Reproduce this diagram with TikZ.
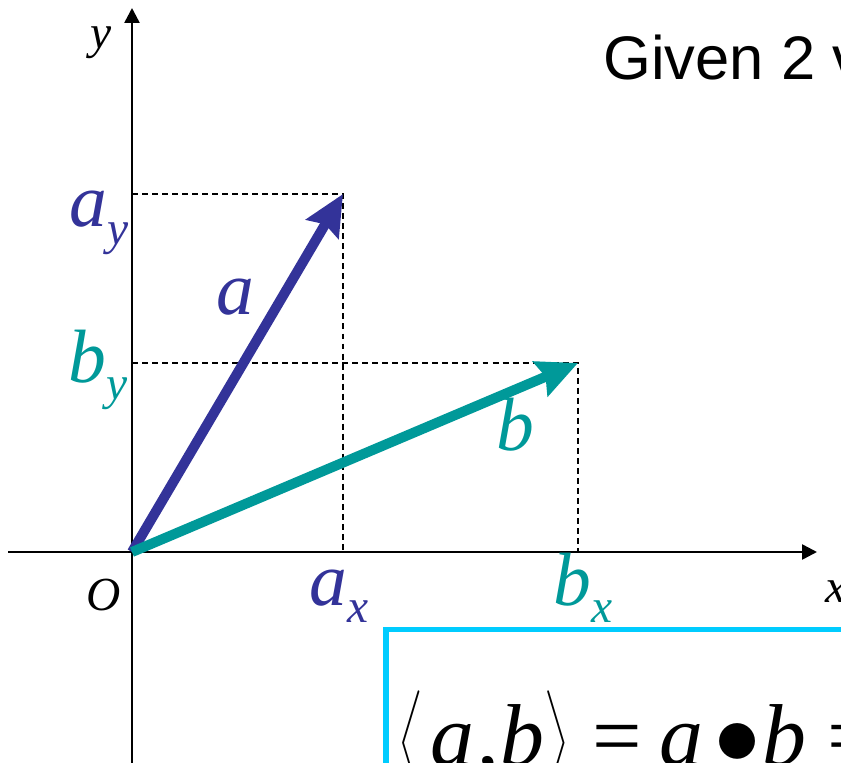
\RequirePackage{fix-cm}
\documentclass[tikz,border=0pt]{standalone}
\usepackage{amsmath}
\usepackage{fontspec}
\setmainfont{Liberation Serif}
\newfontfamily\givenfont{Liberation Sans}
\usetikzlibrary{arrows.meta}
\definecolor{VecBlue}{RGB}{51,51,153}
\definecolor{VecTeal}{RGB}{0,153,153}
\definecolor{BoxCyan}{RGB}{0,204,255}
\newcommand{\compsub}[2]{\textit{#1}\raisebox{-10pt}{\fontsize{27}{30}\selectfont\textit{#2}}}

\begin{document}
\begin{tikzpicture}[x=0.02cm,y=-0.02cm,
    axis/.style={line width=1.4pt,-{Triangle[length=8.5pt,width=8.5pt]}},
    vec/.style={line width=5.7pt,-{Stealth[length=23pt,width=21pt,inset=3pt]}},
    proj/.style={line width=0.85pt,dash pattern=on 3.4pt off 2.3pt},
    lbl/.style={inner sep=0pt,anchor=base west,font=\fontsize{43}{50}\selectfont},
    axlbl/.style={inner sep=0pt,anchor=base west,font=\fontsize{27}{30}\selectfont\itshape},
    fml/.style={inner sep=0pt,anchor=base west,font=\fontsize{50}{56}\selectfont}
  ]
    \useasboundingbox (0,0) rectangle (841,763);
    \clip (0,0) rectangle (841,763);
    % points
    \coordinate (O) at (132,552);
    \coordinate (A) at (343,194);
    \coordinate (B) at (578,363);
    \coordinate (xl) at (8,552);
    \coordinate (xr) at (817,552);
    \coordinate (yb) at (132,770);
    \coordinate (yt) at (132,8);
    % projections
    \draw[proj] (O |- A) -- (A) -- (A |- O);
    \draw[proj] (O |- B) -- (B) -- (B |- O);
    % axes
    \draw[axis] (xl) -- (xr);
    \draw[axis] (yb) -- (yt);
    % vectors
    \draw[vec,VecBlue] (O) -- (A);
    \draw[vec,VecTeal] (O) -- (B);
    % labels
    \node[axlbl] (ylab) at (90,49) {y};
    \node[axlbl] (xlab) at (825,602) {x};
    \node[axlbl] (olab) at (86,610) {O};
    \node[lbl,text=VecBlue] (ay) at (69,227) {\compsub{a}{y}};
    \node[lbl,text=VecTeal] (by) at (68,382) {\compsub{b}{y}};
    \node[lbl,text=VecBlue] (alab) at (216,315) {\textit{a}};
    \node[lbl,text=VecTeal] (blab) at (496,450) {\textit{b}};
    \node[lbl,text=VecBlue] (ax) at (309,605) {\compsub{a}{x}};
    \node[lbl,text=VecTeal] (bx) at (553,605) {\compsub{b}{x}};
    \node[inner sep=0pt,anchor=base west,font=\givenfont\fontsize{35}{40}\selectfont] (given) at (603,80) {Given 2 v};
    % inner product box
    \draw[BoxCyan,line width=3.4pt] (386,629.5) rectangle (1000,1000);
    \node[fml] (lang) at (398,765) {\scalebox{0.75}[1]{$\big\langle$}};
    \node[fml] (fa1) at (430,765) {\textit{a}};
    \node[fml] (comma) at (477,765) {,};
    \node[fml] (fb1) at (500,765) {\textit{b}};
    \node[fml] (rang) at (544,765) {\scalebox{0.75}[1]{$\big\rangle$}};
    \node[fml] (eq1) at (592,765) {=};
    \node[fml] (fa2) at (659,765) {\textit{a}};
    \node[fml] (dotop) at (714,764) {\scalebox{1.05}{$\bullet$}};
    \node[fml] (fb2) at (762,765) {\textit{b}};
    \node[fml] (eq2) at (827,765) {=};
\end{tikzpicture}
\end{document}
